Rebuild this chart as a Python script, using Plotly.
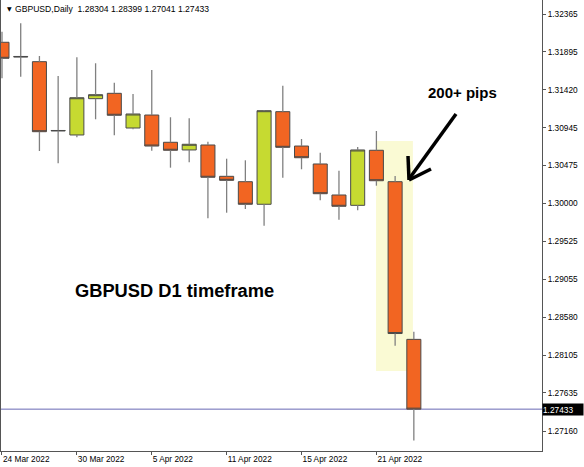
import plotly.graph_objects as go

# ---- data (GBPUSD daily) ----
dates = ["2022-03-24", "2022-03-25", "2022-03-28", "2022-03-29", "2022-03-30", "2022-03-31",
         "2022-04-01", "2022-04-04", "2022-04-05", "2022-04-06", "2022-04-07", "2022-04-08",
         "2022-04-11", "2022-04-12", "2022-04-13", "2022-04-14", "2022-04-15", "2022-04-18",
         "2022-04-19", "2022-04-20", "2022-04-21", "2022-04-22", "2022-04-25"]
open_ = [1.32012, 1.31835, 1.31770, 1.30905, 1.30855, 1.31308, 1.31375, 1.30942, 1.31104,
         1.30764, 1.30668, 1.30730, 1.30339, 1.30272, 1.29990, 1.31146, 1.30717, 1.30493,
         1.30106, 1.29977, 1.30664, 1.30272, 1.28304]
high = [1.32144, 1.32249, 1.31841, 1.31591, 1.31825, 1.31750, 1.31508, 1.31367, 1.31666,
        1.31076, 1.31063, 1.30771, 1.30559, 1.30539, 1.31167, 1.31470, 1.30805, 1.30634,
        1.30409, 1.30705, 1.30905, 1.30343, 1.28399]
low = [1.31562, 1.31582, 1.30655, 1.30502, 1.30826, 1.31051, 1.30851, 1.30926, 1.30659,
       1.30447, 1.30514, 1.29815, 1.29885, 1.29931, 1.29723, 1.30322, 1.30427, 1.30040,
       1.29798, 1.29915, 1.30222, 1.28225, 1.27041]
close = [1.31812, 1.31830, 1.30896, 1.30911, 1.31320, 1.31358, 1.31101, 1.31117, 1.30717,
         1.30664, 1.30739, 1.30327, 1.30289, 1.29990, 1.31158, 1.30701, 1.30571, 1.30122,
         1.29965, 1.30668, 1.30284, 1.28377, 1.27433]

tick_dates = ["2022-03-24", "2022-03-30", "2022-04-05", "2022-04-11", "2022-04-15", "2022-04-21"]
tick_labels = ["24 Mar 2022", "30 Mar 2022", "5 Apr 2022", "11 Apr 2022", "15 Apr 2022", "21 Apr 2022"]
price_ticks = [1.32365, 1.31895, 1.31420, 1.30945, 1.30475, 1.30000, 1.29525,
               1.29055, 1.28580, 1.28105, 1.27635, 1.27160]
symbol = "GBPUSD,Daily"
highlight_dates = ["2022-04-21", "2022-04-22"]
highlight_prices = [1.27909, 1.30780]

# ---- styling ----
ORANGE = "#F26522"
GREEN = "#C6DA31"
OUTLINE = "#4a4a4a"
WICK = "#808080"
FONT = "Liberation Sans"

W, H = 584, 467
ML, MR, MT, MB = 1, 42, 0, 16
PW, PH = W - ML - MR, H - MT - MB

xs = list(range(len(dates)))
body_top = [max(o, c) for o, c in zip(open_, close)]
body_bot = [min(o, c) for o, c in zip(open_, close)]

# wicks as segments outside the bodies
wx, wy = [], []
for i in xs:
    wx += [i, i, None, i, i, None]
    wy += [high[i], body_top[i], None, body_bot[i], low[i], None]

fig = go.Figure()
fig.add_trace(go.Scatter(x=wx, y=wy, mode="lines", line=dict(color=WICK, width=1.3),
                         hoverinfo="skip", showlegend=False))
fig.add_trace(go.Candlestick(
    x=xs, open=open_, high=body_top, low=body_bot, close=close,
    increasing=dict(fillcolor=GREEN, line=dict(color=OUTLINE, width=1)),
    decreasing=dict(fillcolor=ORANGE, line=dict(color=OUTLINE, width=1)),
    whiskerwidth=0, showlegend=False))


def px(x):
    return (x - ML) / PW


def py(y):
    return (H - MB - y) / PH


shapes = [
    dict(type="rect", layer="below", xref="x", yref="y",
         x0=dates.index(highlight_dates[0]) - 0.02, x1=dates.index(highlight_dates[1]) + 0.95,
         y0=highlight_prices[0], y1=highlight_prices[1],
         fillcolor="#FAFAD4", line=dict(width=0)),
    dict(type="line", layer="below", xref="paper", yref="y", x0=0, x1=1,
         y0=close[-1], y1=close[-1], line=dict(color="#6868B4", width=1)),
]
for (x0, y0, x1, y1) in [(409, 179, 456, 114), (409, 180, 408, 156), (409, 180, 431, 169)]:
    shapes.append(dict(type="line", xref="paper", yref="paper",
                       x0=px(x0), y0=py(y0), x1=px(x1), y1=py(y1),
                       line=dict(color="black", width=3.5)))

header = f"{symbol}  {open_[-1]:.5f} {high[-1]:.5f} {low[-1]:.5f} {close[-1]:.5f}"
annotations = [
    dict(xref="paper", yref="paper", x=px(5), y=py(8.5), xanchor="left", yanchor="middle",
         text="▼", showarrow=False, font=dict(family="DejaVu Sans", size=6, color="black")),
    dict(xref="paper", yref="paper", x=px(13), y=py(9), xanchor="left", yanchor="middle",
         text=header, showarrow=False, font=dict(family=FONT, size=8.6, color="black")),
    dict(xref="paper", yref="paper", x=px(174), y=py(290), xanchor="center", yanchor="middle",
         text="<b>GBPUSD D1 timeframe</b>", showarrow=False,
         font=dict(family=FONT, size=18.3, color="black")),
    dict(xref="paper", yref="paper", x=px(462), y=py(93), xanchor="center", yanchor="middle",
         text="<b>200+ pips</b>", showarrow=False,
         font=dict(family=FONT, size=15, color="black")),
    dict(xref="paper", yref="y", x=1, y=close[-1], xanchor="left", yanchor="middle",
         text=f"{close[-1]:.5f}", showarrow=False, bgcolor="black", width=40, height=11,
         align="left", borderpad=0, font=dict(family=FONT, size=8.3, color="white")),
]

fig.update_layout(
    width=W, height=H, margin=dict(l=ML, r=MR, t=MT, b=MB, pad=0, autoexpand=False),
    paper_bgcolor="white", plot_bgcolor="white",
    boxgap=0, boxgroupgap=0.25,
    shapes=shapes, annotations=annotations, showlegend=False,
    xaxis=dict(range=[-0.053, 28.846], showgrid=False, zeroline=False, showline=True,
               linecolor="#555", linewidth=1, ticks="outside", ticklen=3, tickcolor="#555",
               tickvals=[dates.index(d) for d in tick_dates], ticktext=tick_labels,
               ticklabelposition="outside right", automargin=False,
               tickfont=dict(family=FONT, size=8.3, color="black"),
               rangeslider=dict(visible=False), fixedrange=True),
    yaxis=dict(side="right", range=[1.269107, 1.325397], showgrid=False, zeroline=False,
               showline=True, mirror=True, linecolor="#555", linewidth=1,
               ticks="outside", ticklen=3, tickcolor="#555", automargin=False,
               tickvals=price_ticks, ticktext=[f"{v:.5f}" for v in price_ticks],
               tickfont=dict(family=FONT, size=8.3, color="black"), fixedrange=True),
)

fig.write_html("out.html", config={"displayModeBar": False},
               post_script="document.body.style.margin='0';document.body.style.overflow='hidden';")
